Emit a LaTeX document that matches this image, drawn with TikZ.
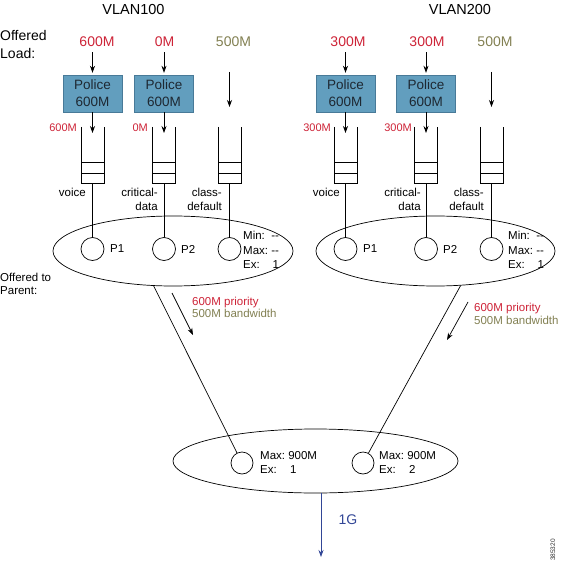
\documentclass[tikz,border=0pt]{standalone}
\usepackage{fontspec}
\setmainfont{Liberation Sans}
\usetikzlibrary{shapes.geometric,arrows.meta}
\definecolor{cred}{RGB}{205,35,55}
\definecolor{colive}{RGB}{130,128,82}
\definecolor{boxfill}{RGB}{98,158,190}
\definecolor{boxedge}{RGB}{72,122,152}
\definecolor{boxtext}{RGB}{30,40,50}
\definecolor{cblue}{RGB}{50,70,150}
\newcommand\drawqueue[2]{%
  \draw[ln] (#1-11.5,127) -- (#1-11.5,183) -- (#1+11.5,183) -- (#1+11.5,127);
  \draw[ln] (#1-11.5,162) -- (#1+11.5,162) (#1-11.5,173) -- (#1+11.5,173);
  \coordinate (#2) at (#1,183);
}
\begin{document}
\begin{tikzpicture}[x=1pt,y=-1pt,
  big/.style={font=\fontsize{14}{18}\selectfont},
  sm/.style={font=\fontsize{11.5}{14}\selectfont},
  smr/.style={font=\fontsize{11}{13}\selectfont, text=cred, inner sep=0pt, anchor=east},
  police/.style={draw=boxedge, fill=boxfill, text=boxtext, minimum width=59pt, minimum height=37pt, inner sep=0pt, align=center, font=\fontsize{13.5}{16.7}\selectfont},
  qc/.style={circle, draw, line width=0.7pt, minimum size=23pt, inner sep=0pt},
  ell/.style={ellipse, draw, line width=0.7pt, inner sep=0pt},
  arr/.style={line width=0.7pt, -{Stealth[length=7pt,width=5pt]}},
  ln/.style={line width=0.7pt},
  lbl/.style={sm, anchor=north east, align=right, inner sep=0pt},
]
\useasboundingbox (0,0) rectangle (563,564);

% titles
\node[font=\fontsize{14.5}{17}\selectfont] (v1) at (133.5,9.5) {VLAN100};
\node[font=\fontsize{14.5}{17}\selectfont] (v2) at (460,9.5) {VLAN200};
\node[big, anchor=west, align=left, inner sep=0pt] (ol) at (0,44) {Offered\\Load:};

% offered load labels
\node[big, text=cred] (ll1) at (97,42) {600M};
\node[big, text=cred] (ll2) at (164.5,42) {0M};
\node[big, text=colive] (ll3) at (233.5,42) {500M};
\node[big, text=cred] (ll4) at (348,42) {300M};
\node[big, text=cred] (ll5) at (427,42) {300M};
\node[big, text=colive] (ll6) at (495,42) {500M};

% police boxes
\node[police] (p1) at (92.5,93.5) {Police\\600M};
\node[police] (p2) at (164,93.5) {Police\\600M};
\node[police] (p3) at (345.5,93.5) {Police\\600M};
\node[police] (p4) at (426,93.5) {Police\\600M};

\draw[arr, shorten <=2pt, shorten >=2pt] (ll1.south -| p1.north) -- (p1.north);
\draw[arr, shorten <=2pt, shorten >=2pt] (ll2.south -| p2.north) -- (p2.north);
\draw[arr, shorten <=2pt, shorten >=2pt] (ll4.south -| p3.north) -- (p3.north);
\draw[arr, shorten <=2pt, shorten >=2pt] (ll5.south -| p4.north) -- (p4.north);

% default class arrows
\coordinate (t1) at (229.5,72); \coordinate (u1) at (229.5,107);
\coordinate (t2) at (491.5,72); \coordinate (u2) at (491.5,107);
\draw[arr] (t1) -- (u1);
\draw[arr] (t2) -- (u2);

% arrows into queues
\coordinate (a1) at (92.5,133);
\coordinate (a2) at (164,133);
\coordinate (a3) at (345.5,133);
\coordinate (a4) at (426,133);
\draw[arr] (p1) -- (a1);
\draw[arr] (p2) -- (a2);
\draw[arr] (p3) -- (a3);
\draw[arr] (p4) -- (a4);

\node[smr] (r1) at (77,128) {600M};
\node[smr] (r2) at (148,128) {0M};
\node[smr] (r3) at (331,128) {300M};
\node[smr] (r4) at (412,128) {300M};

% queues
\drawqueue{92.5}{qb1}
\drawqueue{164}{qb2}
\drawqueue{229.5}{qb3}
\drawqueue{345.5}{qb4}
\drawqueue{426}{qb5}
\drawqueue{491.5}{qb6}

% class labels
\node[lbl] (n1) at (86,187.5) {\rule{0pt}{9pt}voice};
\node[lbl] (n2) at (158,187.5) {\rule{0pt}{9pt}critical-\\data};
\node[lbl] (n3) at (222,187.5) {\rule{0pt}{9pt}class-\\default};
\node[lbl] (n4) at (340,187.5) {\rule{0pt}{9pt}voice};
\node[lbl] (n5) at (421,187.5) {\rule{0pt}{9pt}critical-\\data};
\node[lbl] (n6) at (484,187.5) {\rule{0pt}{9pt}class-\\default};

% child ellipses
\node[ell, minimum width=240pt, minimum height=70pt] (e1) at (173,251) {};
\node[ell, minimum width=239pt, minimum height=70pt] (e2) at (435.5,251) {};

% circles
\node[qc] (c1) at (92.5,249) {};
\node[qc] (c2) at (164,249) {};
\node[qc] (c3) at (229.5,249) {};
\node[qc] (c4) at (345.5,249) {};
\node[qc] (c5) at (426,249) {};
\node[qc] (c6) at (491.5,249) {};
\foreach \i in {1,...,6}{\draw[ln] (qb\i) -- (c\i);}

\node[sm, anchor=west, inner sep=0pt] (pl1) at (110,249) {P1};
\node[sm, anchor=west, inner sep=0pt] (pl2) at (181,249) {P2};
\node[sm, anchor=west, inner sep=0pt] (pl3) at (363,249) {P1};
\node[sm, anchor=west, inner sep=0pt] (pl4) at (443,249) {P2};

\node[sm, anchor=west, inner sep=0pt] (m1) at (243,251.5)
  {\fontsize{11.5}{14.5}\selectfont\begin{tabular}{@{}l@{\ }r@{}}Min: & -{}-\\Max: & -{}-\\Ex: & 1\end{tabular}};
\node[sm, anchor=west, inner sep=0pt] (m2) at (508,251.5)
  {\fontsize{11.5}{14.5}\selectfont\begin{tabular}{@{}l@{\ }r@{}}Min: & -{}-\\Max: & -{}-\\Ex: & 1\end{tabular}};

\node[font=\fontsize{11.5}{13}\selectfont, anchor=west, align=left, inner sep=0pt] (op) at (0,283.5) {Offered to\\Parent:};

% offered to parent labels
\coordinate (pa1) at (172,293); \coordinate (pb1) at (193,335);
\coordinate (pa2) at (468,302); \coordinate (pb2) at (447,340);
\draw[arr] (pa1) -- (pb1);
\draw[arr] (pa2) -- (pb2);
\node[font=\fontsize{11.5}{12.6}\selectfont, anchor=north west, align=left, inner sep=0pt] (o1) at (192,295.8)
  {\rule{0pt}{9pt}\textcolor{cred}{600M priority}\\\textcolor{colive}{500M bandwidth}};
\node[font=\fontsize{11.5}{12.6}\selectfont, anchor=north west, align=left, inner sep=0pt] (o2) at (474,302.4)
  {\rule{0pt}{9pt}\textcolor{cred}{600M priority}\\\textcolor{colive}{500M bandwidth}};

% parent ellipse
\node[ell, minimum width=285pt, minimum height=64pt] (e3) at (315.5,461) {};
\node[qc, minimum size=22pt] (bc1) at (242,463) {};
\node[qc, minimum size=22pt] (bc2) at (363,463) {};
\draw[ln] (e1.241) -- (bc1);
\draw[ln] (e2.306) -- (bc2);
\node[sm, anchor=west, inner sep=0pt] (bm1) at (260,464)
  {\fontsize{11.5}{14}\selectfont\begin{tabular}{@{}l@{\ }l@{}}Max: & 900M\\Ex: & \,1\end{tabular}};
\node[sm, anchor=west, inner sep=0pt] (bm2) at (379,464)
  {\fontsize{11.5}{14}\selectfont\begin{tabular}{@{}l@{\ }l@{}}Max: & 900M\\Ex: & \,2\end{tabular}};

% output
\coordinate (bo) at (321,557);
\draw[arr, cblue] (e3.south -| bo) -- (bo);
\node[big, text=cblue] (g1) at (348,520) {1G};

\node[font=\fontsize{6.5}{7}\selectfont, rotate=90, text=black!80] (id) at (553,550) {385320};
\end{tikzpicture}
\end{document}
